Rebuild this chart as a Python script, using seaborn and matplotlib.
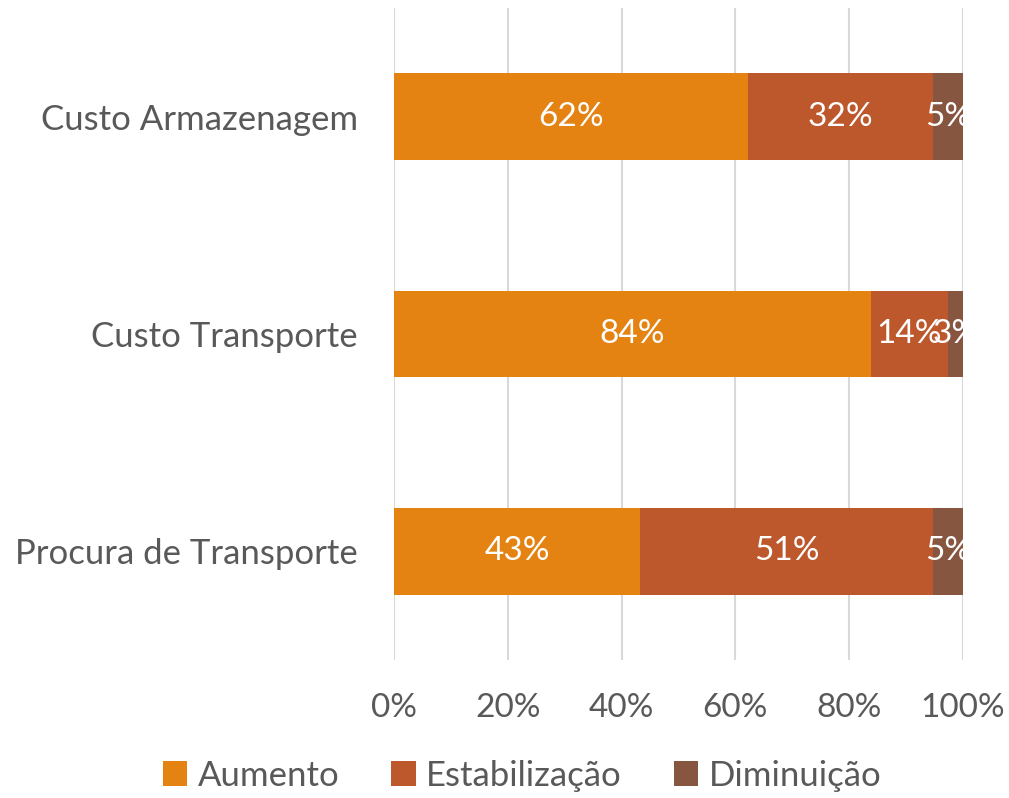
import matplotlib
matplotlib.use("Agg")
import matplotlib.pyplot as plt
import pandas as pd
import seaborn as sns

categories = ["Custo Armazenagem", "Custo Transporte", "Procura de Transporte"]
series = ["Aumento", "Estabilização", "Diminuição"]
aumento = [62.3, 83.8, 43.3]
estabilizacao = [32.4, 13.6, 51.4]
diminuicao = [5.3, 2.6, 5.3]
colors = ["#E48312", "#BD582C", "#865640"]
xticks = [0, 20, 40, 60, 80, 100]

sns.set_style("white")
plt.rcParams["font.family"] = ["Lato", "DejaVu Sans"]

df = pd.DataFrame({
    "cat": categories,
    "Aumento": aumento,
    "Estabilização": estabilizacao,
    "Diminuição": diminuicao,
})
# cumulative ends of each segment
df["end1"] = df["Aumento"]
df["end2"] = df["end1"] + df["Estabilização"]
df["end3"] = df["end2"] + df["Diminuição"]

fig = plt.figure(figsize=(10.09, 7.98), dpi=100)
ax = fig.add_axes([394 / 1009, 138 / 798, 569 / 1009, 652 / 798])

for col, name, c in [("end3", series[2], colors[2]),
                     ("end2", series[1], colors[1]),
                     ("end1", series[0], colors[0])]:
    sns.barplot(data=df, x=col, y="cat", orient="h", color=c, width=0.4,
                label=name, ax=ax, linewidth=0, saturation=1)

# data labels, centred in each segment
starts = [[0] * 3, list(df["end1"]), list(df["end2"])]
vals = [aumento, estabilizacao, diminuicao]
for s in range(3):
    for i in range(3):
        ax.text(starts[s][i] + vals[s][i] / 2, i, f"{vals[s][i]:.0f}%",
                ha="center", va="center", color="white", fontsize=24)

ax.set_xlim(0, 100)
ax.set_ylim(2.5, -0.5)
ax.set_xticks(xticks)
ax.set_xticklabels([f"{t}%" for t in xticks])
ax.xaxis.grid(True, color="#D9D9D9", linewidth=1.5)
ax.set_axisbelow(True)
ax.set_xlabel("")
ax.set_ylabel("")
for sp in ax.spines.values():
    sp.set_visible(False)
ax.tick_params(axis="x", length=0, pad=24, labelsize=24, labelcolor="#595959")
ax.tick_params(axis="y", length=0, pad=26, labelsize=25, labelcolor="#595959")

handles, labels = ax.get_legend_handles_labels()
order = [labels.index(n) for n in series]
ax.legend([handles[k] for k in order], series, loc="lower center",
          bbox_to_anchor=(0.225, -0.25), ncol=3, frameon=False,
          handlelength=0.7, handleheight=0.7, handletextpad=0.3,
          columnspacing=1.5, fontsize=25, labelcolor="#595959")

plt.savefig("out.png", dpi=100)
